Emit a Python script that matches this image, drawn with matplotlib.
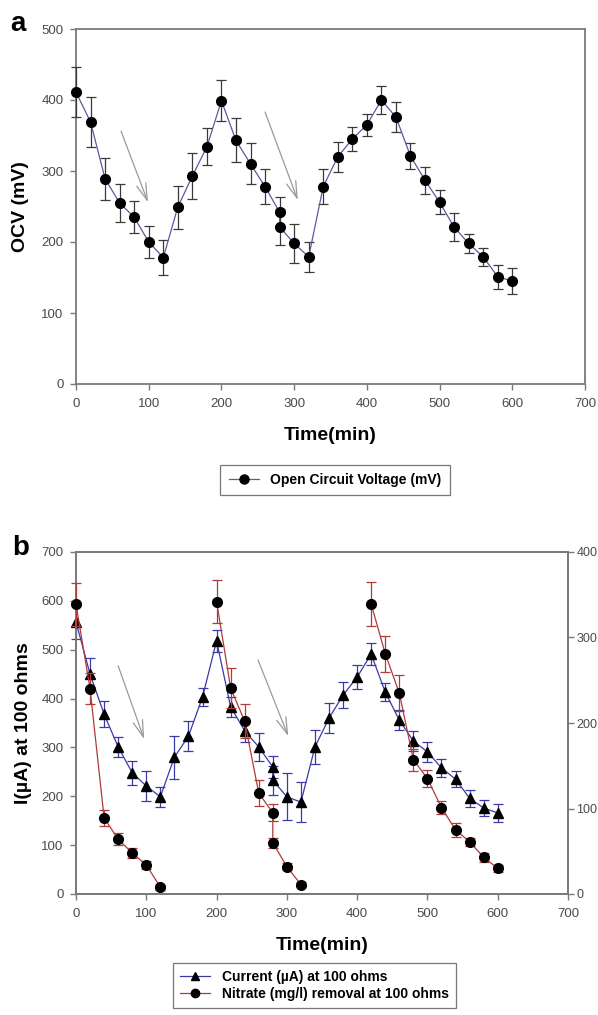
import numpy as np
import matplotlib
matplotlib.use("Agg")
import matplotlib.pyplot as plt
from matplotlib.lines import Line2D

plt.rcParams['font.family'] = ['Liberation Sans', 'DejaVu Sans']

# ---------------- data ----------------
# Time points (min); the 280 min sample was measured twice
time_min = [0, 20, 40, 60, 80, 100, 120, 140, 160, 180, 200, 220, 240, 260, 280, 280,
            300, 320, 340, 360, 380, 400, 420, 440, 460, 480, 500, 520, 540, 560, 580, 600]

# Panel a: open circuit voltage (mV)
ocv = [411, 369, 289, 255, 235, 200, 178, 249, 293, 334, 399, 343, 310, 278, 242, 221,
       198, 179, 278, 320, 345, 365, 400, 376, 321, 287, 256, 221, 198, 179, 151, 145]
ocv_err = [35, 35, 30, 27, 23, 22, 25, 30, 33, 26, 29, 31, 29, 25, 21, 25,
           28, 21, 25, 21, 17, 15, 20, 21, 18, 19, 17, 20, 13, 13, 17, 18]

# Panel b: current (uA) at 100 ohms
current = [557, 450, 368, 301, 248, 221, 199, 280, 323, 403, 518, 383, 334, 301, 260, 233,
           199, 188, 301, 360, 407, 444, 491, 413, 356, 313, 291, 258, 235, 196, 176, 166]
current_err = [35, 33, 27, 20, 25, 31, 20, 44, 31, 18, 23, 20, 22, 29, 22, 30,
               48, 41, 34, 31, 26, 24, 22, 18, 21, 21, 20, 18, 16, 17, 16, 19]

# Panel b: nitrate (mg/l), three feeding cycles
nitrate_t1 = [0, 20, 40, 60, 80, 100, 120]
nitrate_1 = [339, 240, 89, 64, 48, 34, 8]
nitrate_err_1 = [25, 18, 9, 7, 6, 5, 3]
nitrate_t2 = [200, 220, 240, 260, 280, 280, 300, 320]
nitrate_2 = [342, 241, 202, 118, 95, 60, 32, 11]
nitrate_err_2 = [25, 23, 20, 15, 10, 6, 4, 3]
nitrate_t3 = [420, 440, 460, 480, 500, 520, 540, 560, 580, 600]
nitrate_3 = [339, 281, 235, 157, 135, 101, 75, 61, 43, 30]
nitrate_err_3 = [26, 21, 21, 13, 10, 8, 8, 5, 5, 4]

x_ticks = [0, 100, 200, 300, 400, 500, 600, 700]

# ---------------- styling ----------------
SPINE = '#7a7a7a'
TICKCOL = '#4a4a4a'
OCV_LINE = '#5a5aa0'
CUR_LINE = '#3a3aa8'
NIT_LINE = '#b03a3a'
ARROW = '#9a9a9a'
LABEL_FS = 14
TICK_FS = 9.5
LEGEND_FS = 10

W, H = 598, 1015
fig = plt.figure(figsize=(W / 100, H / 100), dpi=100)


def style_axes(ax):
    for s in ax.spines.values():
        s.set_color(SPINE)
        s.set_linewidth(1.3)
    ax.tick_params(direction='out', length=4, width=1.0, color=SPINE,
                   labelsize=TICK_FS, labelcolor=TICKCOL)
    ax.tick_params(axis='x', pad=6)
    ax.tick_params(axis='y', pad=5)


def arrow(ax, start, end):
    ax.annotate('', xy=end, xytext=start,
                arrowprops=dict(arrowstyle='->,head_length=1.2,head_width=0.35',
                                color=ARROW, lw=0.9, shrinkA=0, shrinkB=0,
                                mutation_scale=10))


ebar_kw = dict(lw=0.9, mfc='black', mec='black', elinewidth=0.9,
               capsize=3.6, capthick=0.9, zorder=3, clip_on=False)

# ---------------- panel a ----------------
ax1 = fig.add_axes([76 / W, 1 - 384 / H, (585 - 76) / W, (384 - 29) / H])
style_axes(ax1)
ax1.errorbar(time_min, ocv, yerr=ocv_err, fmt='o-', color=OCV_LINE, ms=7,
             ecolor='#3a3a3a', **ebar_kw)
ax1.set_xlim(0, 700)
ax1.set_ylim(0, 500)
ax1.set_xticks(x_ticks)
ax1.set_yticks([0, 100, 200, 300, 400, 500])
ax1.set_xlabel('Time(min)', fontsize=LABEL_FS, fontweight='bold', labelpad=12)
ax1.set_ylabel('OCV (mV)', fontsize=LABEL_FS, fontweight='bold', labelpad=9)
arrow(ax1, (62, 356), (99, 256))
arrow(ax1, (260, 383), (305, 259))

h_ocv = Line2D([], [], color=OCV_LINE, lw=0.9, marker='o', ms=6.5, mfc='black', mec='black')
leg1 = fig.legend([h_ocv], ['Open Circuit Voltage (mV)'], loc='center',
                  bbox_to_anchor=(335 / W, 1 - 480 / H), frameon=True, fancybox=False,
                  edgecolor='#555555', prop={'size': LEGEND_FS, 'weight': 'bold'},
                  handlelength=2.2, borderpad=0.6)
leg1.get_frame().set_linewidth(0.9)

fig.text(18 / W, 1 - 24 / H, 'a', fontsize=20, fontweight='bold', va='center', ha='center')

# ---------------- panel b ----------------
ax2 = fig.add_axes([76 / W, 1 - 894 / H, (568 - 76) / W, (894 - 552) / H])
style_axes(ax2)
ax2.errorbar(time_min, current, yerr=current_err, fmt='^-', color=CUR_LINE, ms=6.5,
             ecolor=CUR_LINE, **ebar_kw)
ax2.set_xlim(0, 700)
ax2.set_ylim(0, 700)
ax2.set_xticks(x_ticks)
ax2.set_yticks([0, 100, 200, 300, 400, 500, 600, 700])
ax2.set_xlabel('Time(min)', fontsize=LABEL_FS, fontweight='bold', labelpad=12)
ax2.set_ylabel('I(\u00b5A) at 100 ohms', fontsize=LABEL_FS, fontweight='bold', labelpad=7)
arrow(ax2, (60, 467), (97, 317))
arrow(ax2, (259, 479), (302, 323))

ax3 = ax2.twinx()
style_axes(ax3)
ax3.tick_params(axis='y', pad=2, labelsize=9)
for tt, vv, ee in [(nitrate_t1, nitrate_1, nitrate_err_1),
                   (nitrate_t2, nitrate_2, nitrate_err_2),
                   (nitrate_t3, nitrate_3, nitrate_err_3)]:
    ax3.errorbar(tt, vv, yerr=ee, fmt='o-', color=NIT_LINE, ms=7,
                 ecolor=NIT_LINE, **ebar_kw)
ax3.set_ylim(0, 400)
ax3.set_yticks([0, 100, 200, 300, 400])

h_cur = Line2D([], [], color=CUR_LINE, lw=0.9, marker='^', ms=6, mfc='black', mec='black')
h_nit = Line2D([], [], color=NIT_LINE, lw=0.9, marker='o', ms=6, mfc='black', mec='black')
leg2 = fig.legend([h_cur, h_nit], ['Current (\u00b5A) at 100 ohms',
                                   'Nitrate (mg/l) removal at 100 ohms'],
                  loc='upper left', bbox_to_anchor=(173 / W, 1 - 963 / H),
                  frameon=True, fancybox=False, edgecolor='#555555',
                  prop={'size': LEGEND_FS, 'weight': 'bold'}, handlelength=2.2,
                  borderpad=0.5, labelspacing=0.2, borderaxespad=0)
leg2.get_frame().set_linewidth(0.9)

fig.text(21 / W, 1 - 548 / H, 'b', fontsize=20, fontweight='bold', va='center', ha='center')

fig.savefig('out.png', dpi=100)
